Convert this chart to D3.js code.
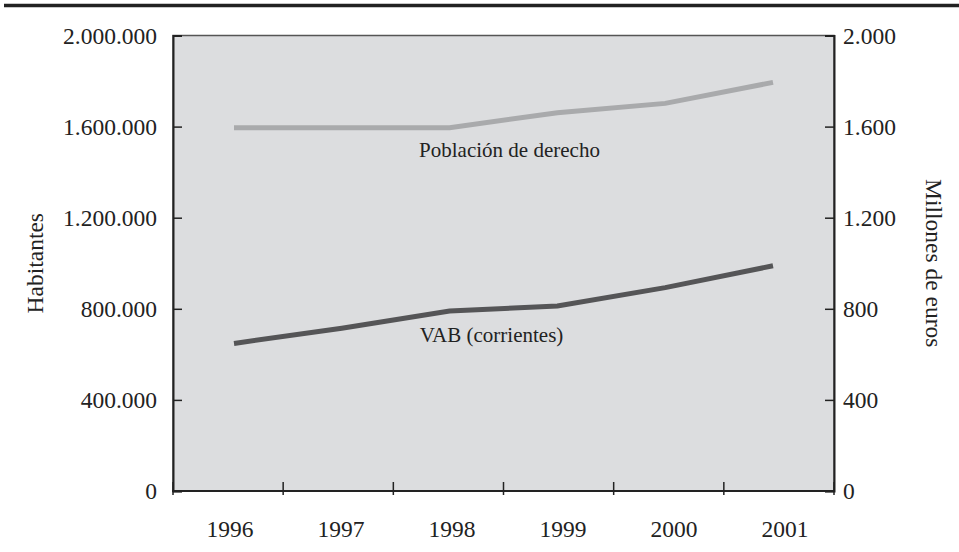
<!DOCTYPE html>
<html>
<head>
<meta charset="utf-8">
<script src="https://cdn.jsdelivr.net/npm/d3@7"></script>
<style>
  body { margin: 0; background: #fff; }
</style>
</head>
<body>
<div id="chart"></div>
<script>
// Data
const years = [1996, 1997, 1998, 1999, 2000, 2001];
const poblacion = [1595000, 1595000, 1595000, 1661000, 1702000, 1794000];   // habitantes
const vab = [648, 715, 790, 812, 893, 989];                                   // millones de euros
const leftTicks = [0, 400000, 800000, 1200000, 1600000, 2000000];
const rightTicks = [0, 400, 800, 1200, 1600, 2000];

const width = 959, height = 552;
const plot = { left: 173, right: 834, top: 35.5, bottom: 491 };
const serif = "'Liberation Serif', 'Times New Roman', Tinos, serif";

const svg = d3.select('#chart').append('svg')
    .attr('width', width)
    .attr('height', height)
    .style('font-family', serif);

// thick rule across the top
svg.append('line')
    .attr('x1', 4).attr('x2', width)
    .attr('y1', 5.5).attr('y2', 5.5)
    .style('stroke', '#222')
    .style('stroke-width', 3.5);

// scales
const xBand = d3.scaleBand().domain(years).range([plot.left, plot.right]);
const xPoint = d3.scalePoint().domain(years).range([234, 773]);
const xLabel = d3.scalePoint().domain(years).range([230, 785]);
const yLeft = d3.scaleLinear().domain([0, 2000000]).range([plot.bottom, plot.top]);
const yRight = d3.scaleLinear().domain([0, 2000]).range([plot.bottom, plot.top]);

const dotFmt = d => d3.format(',')(d).replace(/,/g, '.');

// plot background
svg.append('rect')
    .attr('x', plot.left).attr('y', plot.top)
    .attr('width', plot.right - plot.left)
    .attr('height', plot.bottom - plot.top)
    .style('fill', '#dcdddf')
    .style('stroke', '#555')
    .style('stroke-width', 1.5);

// left axis
const gL = svg.append('g')
    .attr('transform', `translate(${plot.left},0)`)
    .call(d3.axisLeft(yLeft).tickValues(leftTicks).tickSize(-9).tickPadding(16).tickFormat(dotFmt));

// right axis
const gR = svg.append('g')
    .attr('transform', `translate(${plot.right},0)`)
    .call(d3.axisRight(yRight).tickValues(rightTicks).tickSize(-9).tickPadding(9).tickFormat(dotFmt));

[gL, gR].forEach(g => {
    g.attr('font-family', null).attr('font-size', null);
    g.select('.domain').style('stroke', '#222').style('stroke-width', 2);
    g.selectAll('.tick line').style('stroke', '#222').style('stroke-width', 1.5);
    g.selectAll('.tick text')
        .style('font-family', serif)
        .style('font-size', '23.5px')
        .style('fill', '#222');
});

// x axis: line, ticks at band edges, labels under each year
const xAxis = svg.append('g');
xAxis.append('line')
    .attr('x1', plot.left - 1).attr('x2', plot.right + 1)
    .attr('y1', plot.bottom).attr('y2', plot.bottom)
    .style('stroke', '#222')
    .style('stroke-width', 2);

const edges = years.map(y => xBand(y)).concat([xBand(years[years.length - 1]) + xBand.bandwidth()]);
xAxis.selectAll('line.tick')
    .data(edges)
    .enter()
    .append('line')
    .attr('class', 'tick')
    .attr('x1', d => d).attr('x2', d => d)
    .attr('y1', plot.bottom - 9).attr('y2', plot.bottom + 4)
    .style('stroke', '#222')
    .style('stroke-width', 1.5);

xAxis.selectAll('text')
    .data(years)
    .enter()
    .append('text')
    .attr('x', d => xLabel(d))
    .attr('y', 537)
    .attr('text-anchor', 'middle')
    .style('font-size', '23.5px')
    .style('fill', '#222')
    .text(d => d);

// axis titles
svg.append('text')
    .attr('transform', `translate(43,${(plot.top + plot.bottom) / 2}) rotate(-90)`)
    .attr('text-anchor', 'middle')
    .style('font-size', '23.5px')
    .style('fill', '#222')
    .text('Habitantes');

svg.append('text')
    .attr('transform', `translate(926,${(plot.top + plot.bottom) / 2}) rotate(90)`)
    .attr('text-anchor', 'middle')
    .style('font-size', '23.5px')
    .style('fill', '#222')
    .text('Millones de euros');

// lines
const linePob = d3.line()
    .x((d, i) => xPoint(years[i]))
    .y(d => yLeft(d));

const lineVab = d3.line()
    .x((d, i) => xPoint(years[i]))
    .y(d => yRight(d));

svg.append('path')
    .datum(poblacion)
    .attr('d', linePob)
    .style('fill', 'none')
    .style('stroke', '#a9aaac')
    .style('stroke-width', 5);

svg.append('path')
    .datum(vab)
    .attr('d', lineVab)
    .style('fill', 'none')
    .style('stroke', '#555557')
    .style('stroke-width', 5);

// series labels
svg.append('text')
    .attr('x', (xPoint(1998) + xPoint(1999)) / 2 + 6)
    .attr('y', yLeft(poblacion[2]) + 29)
    .attr('text-anchor', 'middle')
    .style('font-size', '21px')
    .style('fill', '#222')
    .text('Población de derecho');

svg.append('text')
    .attr('x', (xPoint(1998) + xPoint(1999)) / 2 - 12)
    .attr('y', yRight(vab[3]) + 36)
    .attr('text-anchor', 'middle')
    .style('font-size', '21px')
    .style('fill', '#222')
    .text('VAB (corrientes)');
</script>
</body>
</html>
